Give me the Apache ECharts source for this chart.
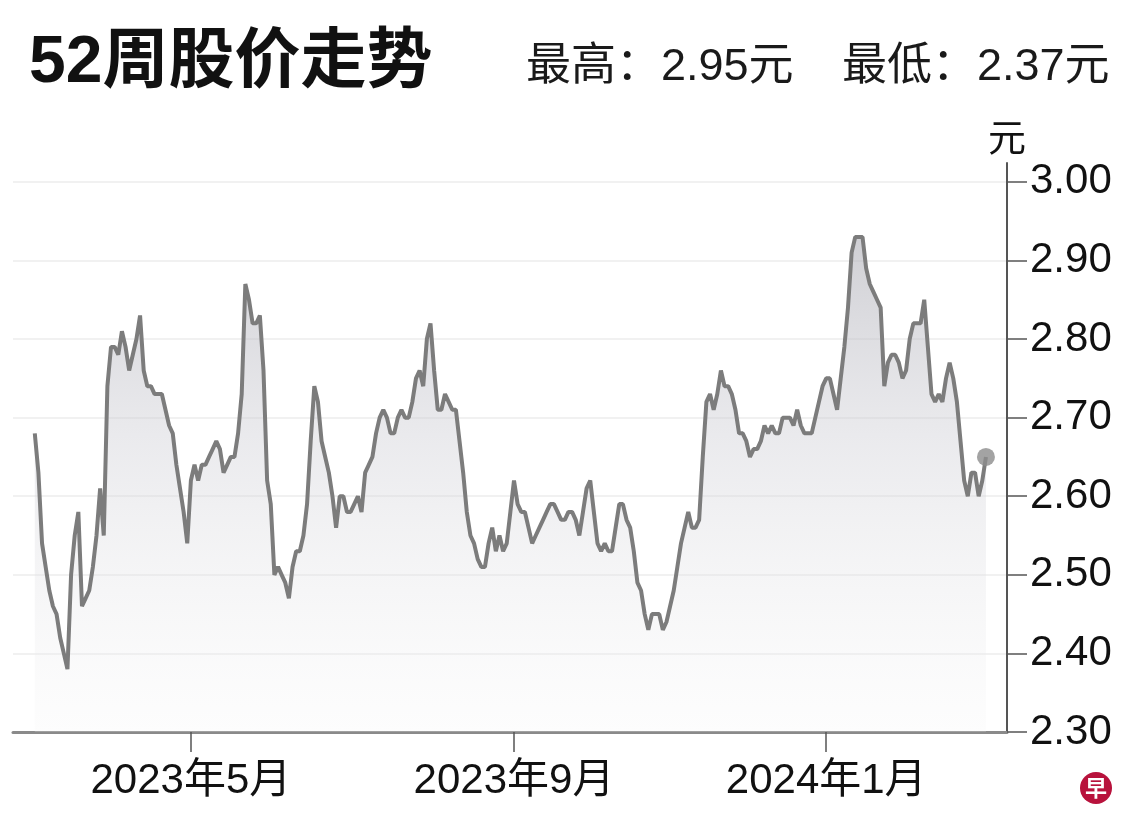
<!DOCTYPE html>
<html>
<head>
<meta charset="utf-8">
<script src="https://cdn.jsdelivr.net/npm/echarts@6/dist/echarts.min.js"></script>
<style>
  html, body { margin: 0; padding: 0; background: #fff; }
  #chart { width: 1140px; height: 837px; }
</style>
</head>
<body>
<div id="chart"></div>
<script>
// daily closes, one per weekday from 2023-03-01 to 2024-03-01
const prices = [
  2.68, 2.63, 2.54, 2.51, 2.48, 2.46, 2.45, 2.42, 2.40, 2.38,
  2.50, 2.55, 2.58, 2.46, 2.47, 2.48, 2.51, 2.55, 2.61, 2.55,
  2.74, 2.79, 2.79, 2.78, 2.81, 2.79, 2.76, 2.78, 2.80, 2.83,
  2.76, 2.74, 2.74, 2.73, 2.73, 2.73, 2.71, 2.69, 2.68, 2.64,
  2.61, 2.58, 2.54, 2.62, 2.64, 2.62, 2.64, 2.64, 2.65, 2.66,
  2.67, 2.66, 2.63, 2.64, 2.65, 2.65, 2.68, 2.73, 2.87, 2.85,
  2.82, 2.82, 2.83, 2.76, 2.62, 2.59, 2.50, 2.51, 2.50, 2.49,
  2.47, 2.51, 2.53, 2.53, 2.55, 2.59, 2.67, 2.74, 2.72, 2.67,
  2.65, 2.63, 2.60, 2.56, 2.60, 2.60, 2.58, 2.58, 2.59, 2.60,
  2.58, 2.63, 2.64, 2.65, 2.68, 2.70, 2.71, 2.70, 2.68, 2.68,
  2.70, 2.71, 2.70, 2.70, 2.72, 2.75, 2.76, 2.74, 2.80, 2.82,
  2.76, 2.71, 2.71, 2.73, 2.72, 2.71, 2.71, 2.67, 2.63, 2.58,
  2.55, 2.54, 2.52, 2.51, 2.51, 2.54, 2.56, 2.53, 2.55, 2.53,
  2.54, 2.58, 2.62, 2.59, 2.58, 2.58, 2.56, 2.54, 2.55, 2.56,
  2.57, 2.58, 2.59, 2.59, 2.58, 2.57, 2.57, 2.58, 2.58, 2.57,
  2.55, 2.58, 2.61, 2.62, 2.58, 2.54, 2.53, 2.54, 2.53, 2.53,
  2.56, 2.59, 2.59, 2.57, 2.56, 2.53, 2.49, 2.48, 2.45, 2.43,
  2.45, 2.45, 2.45, 2.43, 2.44, 2.46, 2.48, 2.51, 2.54, 2.56,
  2.58, 2.56, 2.56, 2.57, 2.65, 2.72, 2.73, 2.71, 2.73, 2.76,
  2.74, 2.74, 2.73, 2.71, 2.68, 2.68, 2.67, 2.65, 2.66, 2.66,
  2.67, 2.69, 2.68, 2.69, 2.68, 2.68, 2.70, 2.70, 2.70, 2.69,
  2.71, 2.69, 2.68, 2.68, 2.68, 2.70, 2.72, 2.74, 2.75, 2.75,
  2.73, 2.71, 2.75, 2.79, 2.84, 2.91, 2.93, 2.93, 2.93, 2.89,
  2.87, 2.86, 2.85, 2.84, 2.74, 2.77, 2.78, 2.78, 2.77, 2.75,
  2.76, 2.80, 2.82, 2.82, 2.82, 2.85, 2.79, 2.73, 2.72, 2.73,
  2.72, 2.75, 2.77, 2.75, 2.72, 2.67, 2.62, 2.60, 2.63, 2.63,
  2.60, 2.62, 2.65
]

const tickDates = ['2023-05-01', '2023-09-01', '2024-01-01']
const tickLabels = ['2023年5月', '2023年9月', '2024年1月']
const yTicks = [2.3, 2.4, 2.5, 2.6, 2.7, 2.8, 2.9, 3.0]

// trading days (weekdays) for the x positions
const dates = []
for (let d = new Date(Date.UTC(2023, 2, 1)); d <= new Date(Date.UTC(2024, 2, 1)); d.setUTCDate(d.getUTCDate() + 1)) {
  const wd = d.getUTCDay()
  if (wd !== 0 && wd !== 6) dates.push(d.toISOString().slice(0, 10))
}
const tickIdx = tickDates.map(t => dates.indexOf(t))
const last = prices.length - 1

const numFont = "'Liberation Sans', Arial, 'Noto Sans CJK SC', sans-serif"

const chart = echarts.init(document.getElementById('chart'), null, { renderer: 'canvas' })
chart.setOption({
  backgroundColor: '#fff',
  animation: false,
  title: [
    {
      text: '52周股价走势',
      left: 24, top: 26,
      textStyle: { fontSize: 66, fontWeight: 'bold', color: '#111', fontFamily: "'Liberation Sans', 'Noto Sans CJK SC', sans-serif" }
    },
    {
      text: '最高：2.95元',
      left: 521, top: 40,
      textStyle: { fontSize: 45, fontWeight: 'normal', color: '#1a1a1a', fontFamily: numFont }
    },
    {
      text: '最低：2.37元',
      left: 837, top: 40,
      textStyle: { fontSize: 45, fontWeight: 'normal', color: '#1a1a1a', fontFamily: numFont }
    }
  ],
  grid: { left: 13, right: 133, top: 163, bottom: 105 },
  xAxis: {
    type: 'value',
    min: -6,
    max: 267.8,
    axisLine: { show: true, onZero: false, lineStyle: { color: '#8a8a8a', width: 3 } },
    axisTick: { show: true, length: 20, customValues: tickIdx, lineStyle: { color: '#555', width: 1.5 } },
    axisLabel: {
      customValues: tickIdx,
      formatter: v => tickLabels[tickIdx.indexOf(v)] || '',
      margin: 28,
      fontSize: 42,
      color: '#111',
      fontFamily: numFont
    },
    splitLine: { show: false }
  },
  yAxis: {
    type: 'value',
    position: 'right',
    min: 2.3,
    max: 3.024,
    name: '元',
    nameLocation: 'end',
    nameGap: 7,
    nameTextStyle: { fontSize: 38, color: '#111', align: 'center', verticalAlign: 'bottom', fontFamily: "'Noto Sans CJK SC', sans-serif" },
    axisLine: { show: true, onZero: false, lineStyle: { color: '#555', width: 2 } },
    axisTick: { show: true, length: 20, customValues: yTicks, lineStyle: { color: '#555', width: 1.5 } },
    axisLabel: {
      customValues: yTicks,
      formatter: v => v.toFixed(2),
      margin: 23,
      fontSize: 42,
      color: '#111',
      fontFamily: numFont
    },
    splitLine: { show: true, lineStyle: { color: '#ececec', width: 1.5 } }
  },
  series: [
    {
      type: 'line',
      data: prices.map((p, i) => [i, p]),
      symbol: 'none',
      lineStyle: { color: '#7c7c7c', width: 4 },
      areaStyle: {
        color: new echarts.graphic.LinearGradient(0, 0, 0, 1, [
          { offset: 0, color: 'rgba(175,175,183,0.85)' },
          { offset: 0.4, color: 'rgba(205,205,212,0.6)' },
          { offset: 1, color: 'rgba(245,245,245,0.3)' }
        ])
      },
      z: 3
    },
    {
      type: 'scatter',
      data: [[last, prices[last]]],
      symbolSize: 18,
      itemStyle: { color: '#8c8c8c' },
      z: 4
    }
  ],
  graphic: [
    {
      type: 'group',
      left: 1080, top: 772,
      children: [
        { type: 'circle', shape: { cx: 16, cy: 16, r: 16 }, style: { fill: '#b8123c' } },
        {
          type: 'text', x: 16, y: 16,
          style: { text: '早', fill: '#fff', fontSize: 22, fontWeight: 'bold', align: 'center', verticalAlign: 'middle', fontFamily: "'Noto Sans CJK SC', sans-serif" }
        }
      ]
    }
  ]
})
</script>
</body>
</html>
